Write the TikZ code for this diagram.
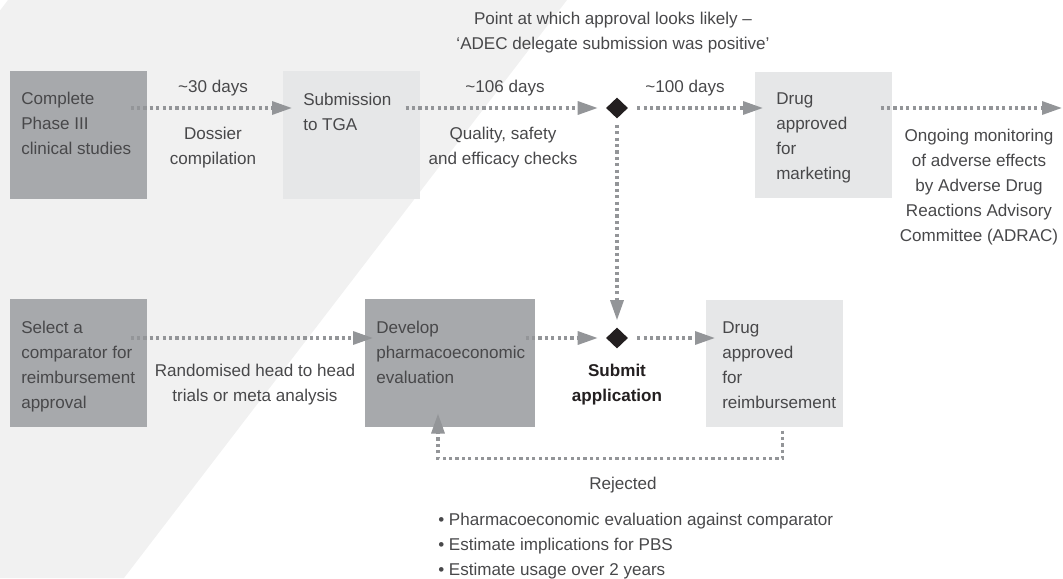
\documentclass[tikz,border=0pt]{standalone}
\usepackage{fontspec}
\setmainfont{Liberation Sans}
\usetikzlibrary{arrows.meta,calc,shapes.geometric}
\definecolor{bggray}{HTML}{F1F1F1}
\definecolor{darkbox}{HTML}{A7A9AC}
\definecolor{lightbox}{HTML}{E6E7E8}
\definecolor{conncol}{HTML}{939598}
\definecolor{txt}{HTML}{48484A}
\definecolor{dia}{HTML}{231F20}
\begin{document}
\begin{tikzpicture}[x=0.75pt,y=-0.75pt,
  every node/.style={font=\fontsize{12.8}{18.75}\selectfont, text=txt},
  boxd/.style={rectangle, fill=darkbox, inner sep=0pt, anchor=north west, minimum width=102.75pt, minimum height=96pt},
  boxl/.style={boxd, fill=lightbox},
  boxtext/.style={anchor=north west, inner sep=0pt, align=left},
  lbl/.style={align=center, inner sep=0pt},
  conn/.style={draw=conncol, line width=2.4pt, dash pattern=on 2.4pt off 2.4pt,
    -{Triangle[length=15pt,width=9.75pt]}},
  diam/.style={diamond, fill=dia, inner sep=0pt, minimum width=16.5pt, minimum height=15.75pt}]

\useasboundingbox (0,0) rectangle (1063,578);
\fill[bggray] (8,0) -- (567,0) -- (124,578) -- (0,578) -- (0,10.5) -- cycle;

% boxes
\node[boxd] (b1) at (10,71) {};
\node[boxl] (b2) at (283,71) {};
\node[boxl, minimum height=94.5pt] (b3) at (755,72) {};
\node[boxd] (b4) at (10,299) {};
\node[boxd, minimum width=127.5pt] (b5) at (365,299) {};
\node[boxl, minimum height=95.25pt] (b6) at (706,300) {};

\node[boxtext] (t1) at (21,92) {Complete\\Phase III\\clinical studies};
\node[boxtext] (t2) at (303,93) {Submission\\to TGA};
\node[boxtext] (t3) at (776,92) {Drug\\approved\\for\\marketing};
\node[boxtext] (t4) at (21,321) {Select a\\comparator for\\reimbursement\\approval};
\node[boxtext] (t5) at (376,321) {Develop\\pharmacoeconomic\\evaluation};
\node[boxtext] (t6) at (722,321) {Drug\\approved\\for\\reimbursement};

% diamonds
\node[diam] (d1) at (617,108) {};
\node[diam] (d2) at (617,338) {};
\coordinate (end) at (1062,108);

% connectors
\draw[conn] ($(b1.east |- d1)+(-17,0)$) -- ($(b2.west |- d1)+(9,0)$);
\draw[conn] ($(b2.east |- d1)+(-15,0)$) -- ($(d1.west)+(-8,0)$);
\draw[conn] ($(d1.east)+(9,0)$) -- ($(b3.west |- d1)+(8,0)$);
\draw[conn] ($(b3.east |- d1)+(-12,0)$) -- (end);
\draw[conn] ($(d1.south)+(0,6)$) -- ($(d2.north)+(0,-7)$);
\draw[conn] ($(b4.east |- d2)+(-17,0)$) -- ($(b5.west |- d2)+(8,0)$);
\draw[conn] ($(b5.east |- d2)+(-10,0)$) -- ($(d2.west)+(-8,0)$);
\draw[conn] ($(d2.east)+(9,0)$) -- ($(b6.west |- d2)+(9,0)$);
\draw[conn] ($(b6.south east)+(-61,3)$) -- ++(0,28) -| ($(b5.south west)+(73,-14)$);

% labels
\node[lbl] (l1) at (213,88) {\textasciitilde30 days};
\node[lbl] (l2) at (213,147.5) {Dossier\\compilation};
\node[lbl] (l3) at (505,88) {\textasciitilde106 days};
\node[lbl] (l4) at (503,147.5) {Quality, safety\\and efficacy checks};
\node[lbl] (l5) at (685,88) {\textasciitilde100 days};
\node[lbl] (l6) at (613,32.5) {Point at which approval looks likely --\\`ADEC delegate submission was positive'};
\node[lbl] (l7) at (979,187) {Ongoing monitoring\\of adverse effects\\by Adverse Drug\\Reactions Advisory\\Committee (ADRAC)};
\node[lbl] (l8) at (255,385) {Randomised head to head\\trials or meta analysis};
\node[lbl, font=\fontsize{12.8}{18.75}\selectfont\bfseries, text=dia] (l9) at (617,385) {Submit\\application};
\node[lbl] (l10) at (623,485) {Rejected};
\node[boxtext] (l11) at (438,513) {\textbullet\ Pharmacoeconomic evaluation against comparator\\\textbullet\ Estimate implications for PBS\\\textbullet\ Estimate usage over 2 years};
\end{tikzpicture}
\end{document}
